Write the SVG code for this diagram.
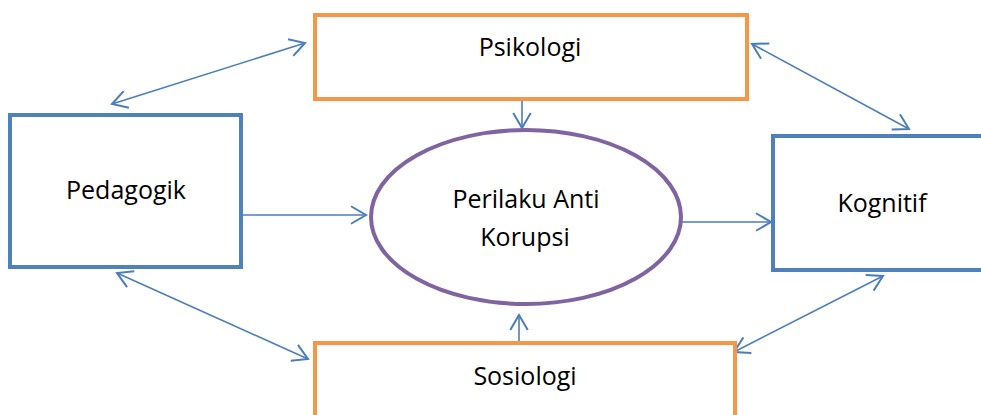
<svg xmlns="http://www.w3.org/2000/svg" width="981" height="415" viewBox="0 0 981 415">
<style>
.orange{fill:#fff;stroke:#F79646;stroke-width:4}
.blue{fill:#fff;stroke:#4F81BD;stroke-width:4}
.ell{fill:#fff;stroke:#8064A2;stroke-width:4}
.lbl{font-family:"Open Sans","Liberation Sans",sans-serif;font-size:25px;fill:#000;text-anchor:middle}
.con{stroke:#4A7EBB;stroke-width:1.6;fill:none}
</style>
<defs>
<marker id="ah" markerUnits="userSpaceOnUse" markerWidth="20" markerHeight="20" viewBox="-14 -8 16 16" refX="0" refY="0" orient="auto-start-reverse">
<path d="M-12,-7 L0,0 L-12,7" fill="none" stroke="#4A7EBB" stroke-width="1.6"/>
</marker>
</defs>
<g id="connectors">
<line class="con" x1="112" y1="104" x2="305" y2="43" marker-start="url(#ah)" marker-end="url(#ah)"/>
<line class="con" x1="752" y1="44" x2="909" y2="129" marker-start="url(#ah)" marker-end="url(#ah)"/>
<line class="con" x1="243" y1="215" x2="366" y2="215" marker-end="url(#ah)"/>
<line class="con" x1="682" y1="222" x2="771" y2="222" marker-end="url(#ah)"/>
<line class="con" x1="117" y1="273" x2="308" y2="359" marker-start="url(#ah)" marker-end="url(#ah)"/>
<line class="con" x1="883" y1="276" x2="734" y2="352" marker-start="url(#ah)" marker-end="url(#ah)"/>
<line class="con" x1="522" y1="101" x2="522" y2="128" marker-end="url(#ah)"/>
<line class="con" x1="519" y1="341" x2="519" y2="315" marker-end="url(#ah)"/>
</g>
<g id="psikologi">
<rect class="orange" x="315" y="15" width="432" height="84"/>
<text class="lbl" x="530" y="56">Psikologi</text>
</g>
<g id="pedagogik">
<rect class="blue" x="10" y="115" width="231" height="152"/>
<text class="lbl" x="126" y="199">Pedagogik</text>
</g>
<g id="kognitif">
<rect class="blue" x="773" y="136" width="212" height="134"/>
<text class="lbl" x="882" y="212">Kognitif</text>
</g>
<g id="sosiologi">
<rect class="orange" x="315" y="343" width="420" height="80"/>
<text class="lbl" x="525" y="385">Sosiologi</text>
</g>
<g id="perilaku">
<ellipse class="ell" cx="526" cy="217" rx="155" ry="87"/>
<text class="lbl" x="526" y="208">Perilaku Anti</text>
<text class="lbl" x="525" y="246">Korupsi</text>
</g>
</svg>
